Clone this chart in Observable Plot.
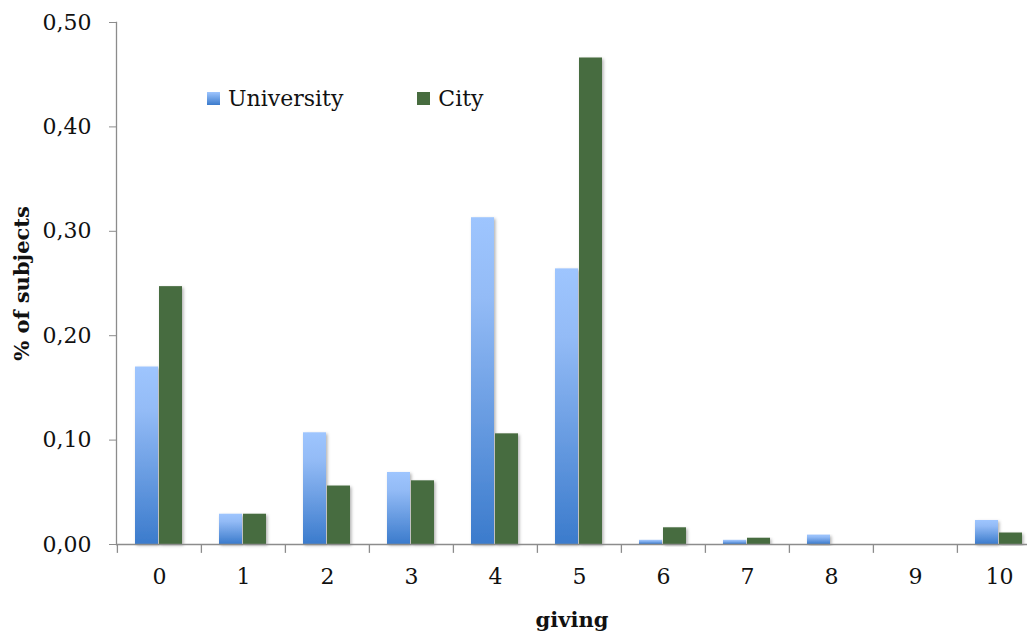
<!DOCTYPE html>
<html>
<head>
<meta charset="utf-8">
<script src="https://cdn.jsdelivr.net/npm/d3@7"></script>
<script src="https://cdn.jsdelivr.net/npm/@observablehq/plot@0.6"></script>
<style>
  html, body { margin: 0; padding: 0; background: #fff; overflow: hidden; }
  #wrap { position: relative; width: 1027px; height: 633px; }
  #legend { position: absolute; left: 207px; top: 86px; font-family: "DejaVu Serif", serif; font-size: 22px; color: #111; display: flex; }
  #legend .item { display: flex; align-items: center; }
  #legend .sw { width: 13px; height: 13px; margin-right: 8px; }
</style>
</head>
<body>
<div id="wrap">
  <div id="chart"></div>
  <div id="legend">
    <div class="item" style="margin-right:74px"><span class="sw" style="background:linear-gradient(#9ec5fe,#3b7bcc)"></span>University</div>
    <div class="item"><span class="sw" style="background:#476c3f"></span>City</div>
  </div>
</div>
<script>
// Share of subjects by amount given, two subject pools
const giving = [0, 1, 2, 3, 4, 5, 6, 7, 8, 9, 10];
const university = [0.170, 0.029, 0.107, 0.069, 0.313, 0.264, 0.004, 0.004, 0.009, 0, 0.023];
const city = [0.247, 0.029, 0.056, 0.061, 0.106, 0.466, 0.016, 0.006, 0, 0, 0.011];
const yTicks = [0, 0.1, 0.2, 0.3, 0.4, 0.5];

const uniRows = giving.map((g, i) => ({giving: g, share: university[i]}));
const cityRows = giving.map((g, i) => ({giving: g, share: city[i]}));

const serif = "DejaVu Serif, serif";
const axisGray = "#8c8c8c";

const chart = Plot.plot({
  width: 1027,
  height: 633,
  marginLeft: 116,
  marginTop: 22,
  marginBottom: 89,
  marginRight: 0,
  style: {fontFamily: serif, fontSize: "20px", color: "#111", background: "#fff"},
  x: {type: "band", domain: giving, range: [116, 1042], padding: 0},
  y: {domain: [0, 0.5], range: [544, 22]},
  marks: [
    // category boundary ticks under the baseline
    Plot.ruleX(giving, {x: d => d, dx: -42.1, y1: 0, y2: -0.0085, stroke: axisGray, strokeWidth: 1.3}),
    Plot.barY(uniRows, {x: "giving", y: "share", fill: "url(#uniGrad)", insetLeft: 18, insetRight: 43}),
    Plot.barY(cityRows, {x: "giving", y: "share", fill: "#476c3f", insetLeft: 42, insetRight: 19}),
    Plot.ruleY([0], {stroke: axisGray, strokeWidth: 1.5}),
    Plot.frame({anchor: "left", stroke: axisGray, strokeWidth: 1.3}),
    Plot.axisY({
      ticks: yTicks,
      tickFormat: d => d.toFixed(2).replace(".", ","),
      tickSize: 7,
      tickPadding: 18,
      stroke: axisGray,
      fontSize: 22,
      label: "% of subjects",
      labelAnchor: "center",
      labelArrow: "none",
      labelOffset: 102
    }),
    Plot.axisX({
      tickSize: 0,
      tickPadding: 24,
      fontSize: 22,
      label: "giving",
      labelAnchor: "center",
      labelOffset: 82,
      labelArrow: "none"
    })
  ]
});

document.getElementById("chart").appendChild(chart);

const svg = d3.select(chart);
const defs = svg.insert("defs", ":first-child");
const grad = defs.append("linearGradient")
  .attr("id", "uniGrad").attr("x1", 0).attr("y1", 0).attr("x2", 0).attr("y2", 1);
grad.append("stop").attr("offset", "0").attr("stop-color", "#9ec5fe");
grad.append("stop").attr("offset", "0.25").attr("stop-color", "#93bbf6");
grad.append("stop").attr("offset", "1").attr("stop-color", "#3b7bcc");
defs.append("filter").attr("id", "barShadow").attr("x", "-20%").attr("y", "-5%").attr("width", "150%").attr("height", "120%")
  .append("feDropShadow").attr("dx", 1.5).attr("dy", 1.5).attr("stdDeviation", 1.5)
  .attr("flood-color", "#000").attr("flood-opacity", 0.3);
svg.selectAll("g[aria-label='bar'] rect").attr("filter", "url(#barShadow)");

// bold axis titles
svg.selectAll("g[aria-label='y-axis label'] text, g[aria-label='x-axis label'] text")
  .attr("font-weight", "bold").attr("font-size", 21);
</script>
</body>
</html>
